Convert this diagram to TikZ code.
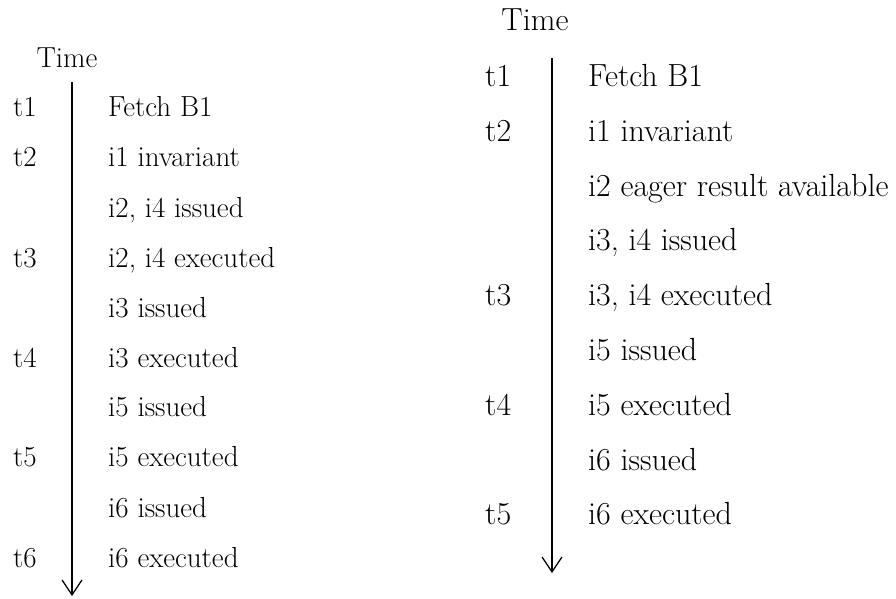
\documentclass[tikz,border=0pt]{standalone}
\usepackage{fontspec}
\usetikzlibrary{arrows.meta}
\begin{document}
\begin{tikzpicture}[x=1pt,y=-1pt,
  lbl/.style={anchor=base west,inner sep=0pt,font=\rmfamily\fontsize{29}{30}\selectfont},
  rlbl/.style={anchor=base west,inner sep=0pt,font=\rmfamily\fontsize{32}{33}\selectfont},
  ttl/.style={anchor=base,inner sep=0pt},
  timeline/.style={line width=1.2pt,-{Straight Barb[length=15pt,width=20pt,line width=1.2pt]}}]
\useasboundingbox (0,0) rectangle (896,598);
% left
\node[lbl,ttl] (lt) at (67,67) {Time};
\coordinate (la) at (72,82);
\coordinate (lb) at (72,596);
\draw[timeline] (la) -- (lb);
\foreach \n/\y/\t/\s in {1/116/t1/Fetch B1, 2/166/t2/i1 invariant, 3/217//{i2, i4 issued}, 4/267/t3/{i2, i4 executed}, 5/317//i3 issued, 6/367/t4/i3 executed, 7/416//i5 issued, 8/466/t5/i5 executed, 9/517//i6 issued, 10/567/t6/i6 executed}{
  \node[lbl] (lt\n) at (13,\y) {\t};
  \node[lbl] (ls\n) at (108,\y) {\s};
}
% right
\node[rlbl,ttl] (rt) at (535,30) {Time};
\coordinate (ra) at (552,58);
\coordinate (rb) at (552,573);
\draw[timeline] (ra) -- (rb);
\foreach \n/\y/\t/\s in {1/86/t1/Fetch B1, 2/141/t2/i1 invariant, 3/196//i2 eager result available, 4/250//{i3, i4 issued}, 5/305/t3/{i3, i4 executed}, 6/360//i5 issued, 7/415/t4/i5 executed, 8/470//i6 issued, 9/524/t5/i6 executed}{
  \node[rlbl] (rt\n) at (485,\y) {\t};
  \node[rlbl] (rs\n) at (588,\y) {\s};
}
\end{tikzpicture}
\end{document}
